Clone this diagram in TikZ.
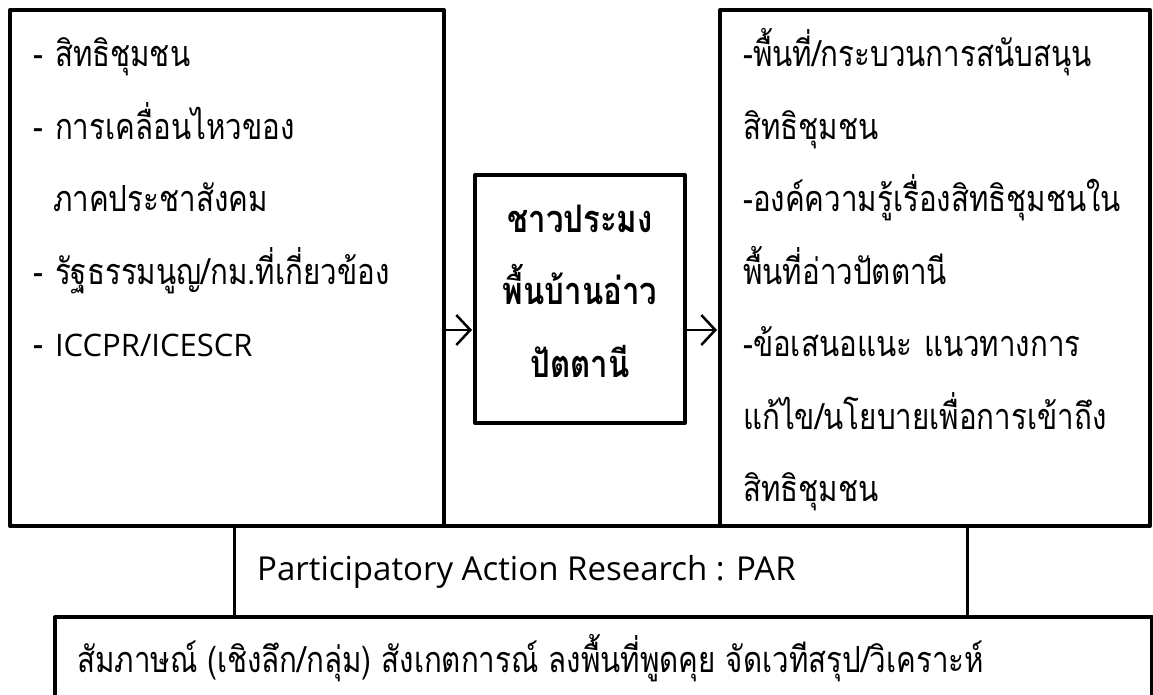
\documentclass[tikz,border=0pt]{standalone}
\usepackage{fontspec}
\usepackage{tikz}
\usetikzlibrary{arrows.meta,positioning}
\setmainfont[Script=Thai, FakeStretch=0.82]{Loma}
\newfontfamily\latinfont{Open Sans}

\begin{document}
\begin{tikzpicture}[x=1pt, y=-1pt, line join=round,
    box/.style={draw, line width=4pt, rectangle, inner sep=0pt, outer sep=0pt, anchor=north west},
    list/.style={align=left, inner sep=0pt, anchor=base west, text width=#1,
      font=\fontsize{36}{72.5}\selectfont},
    flow/.style={line width=2.5pt, shorten >=3pt,
      -{Straight Barb[length=14pt, width=30pt, line width=2.5pt]}}]

  \useasboundingbox (0,0) rectangle (1153,695);

  % frames
  \node[box, minimum width=434pt, minimum height=516pt] (rights) at (10,10) {};
  \node[box, minimum width=430pt, minimum height=516pt] (outcome) at (720,10) {};
  \node[box, minimum width=210pt, minimum height=248pt] (fisher) at (475,175) {};
  \node[box, line width=3pt, minimum width=733pt, minimum height=91pt] (par) at (234,526) {};
  \node[box, minimum width=1097pt, minimum height=120pt] (method) at (55,617) {};
  \draw[line width=4pt] (rights.south east) -- (outcome.south west);

  % texts
  \node[list=420pt] (rightstext) at (33,67) {%
    - สิทธิชุมชน\\
    - การเคลื่อนไหวของ\\
    \hspace*{20pt}ภาคประชาสังคม\\
    - รัฐธรรมนูญ/กม.ที่เกี่ยวข้อง\\
    - {\latinfont\fontsize{31}{72.5}\selectfont ICCPR/ICESCR}};
  \node[list=420pt] (outcometext) at (743,67) {%
    -พื้นที่/กระบวนการสนับสนุน\\
    สิทธิชุมชน\\
    -องค์ความรู้เรื่องสิทธิชุมชนใน\\
    พื้นที่อ่าวปัตตานี\\
    -ข้อเสนอแนะ แนวทางการ\\
    แก้ไข/นโยบายเพื่อการเข้าถึง\\
    สิทธิชุมชน};
  \node[list=210pt, align=center, anchor=base, font=\fontsize{38}{72.5}\selectfont\bfseries]
    (fishertext) at (580,232) {ชาวประมง\\ พื้นบ้านอ่าว\\ ปัตตานี};
  \node[anchor=base west, inner sep=0pt, font=\latinfont\fontsize{33}{40}\selectfont]
    (partext) at (257,580) {Participatory Action Research : PAR};
  \node[anchor=base west, inner sep=0pt, font=\fontsize{36}{40}\selectfont]
    (methodtext) at (77,672) {สัมภาษณ์ (เชิงลึก/กลุ่ม) สังเกตการณ์ ลงพื้นที่พูดคุย จัดเวทีสรุป/วิเคราะห์};

  % arrows
  \coordinate (in) at ([yshift=-31pt]fisher.west);
  \coordinate (out) at ([yshift=-31pt]fisher.east);
  \path[flow]
    (rights.east |- in) edge (in)
    (out) edge (outcome.west |- out);
\end{tikzpicture}
\end{document}
